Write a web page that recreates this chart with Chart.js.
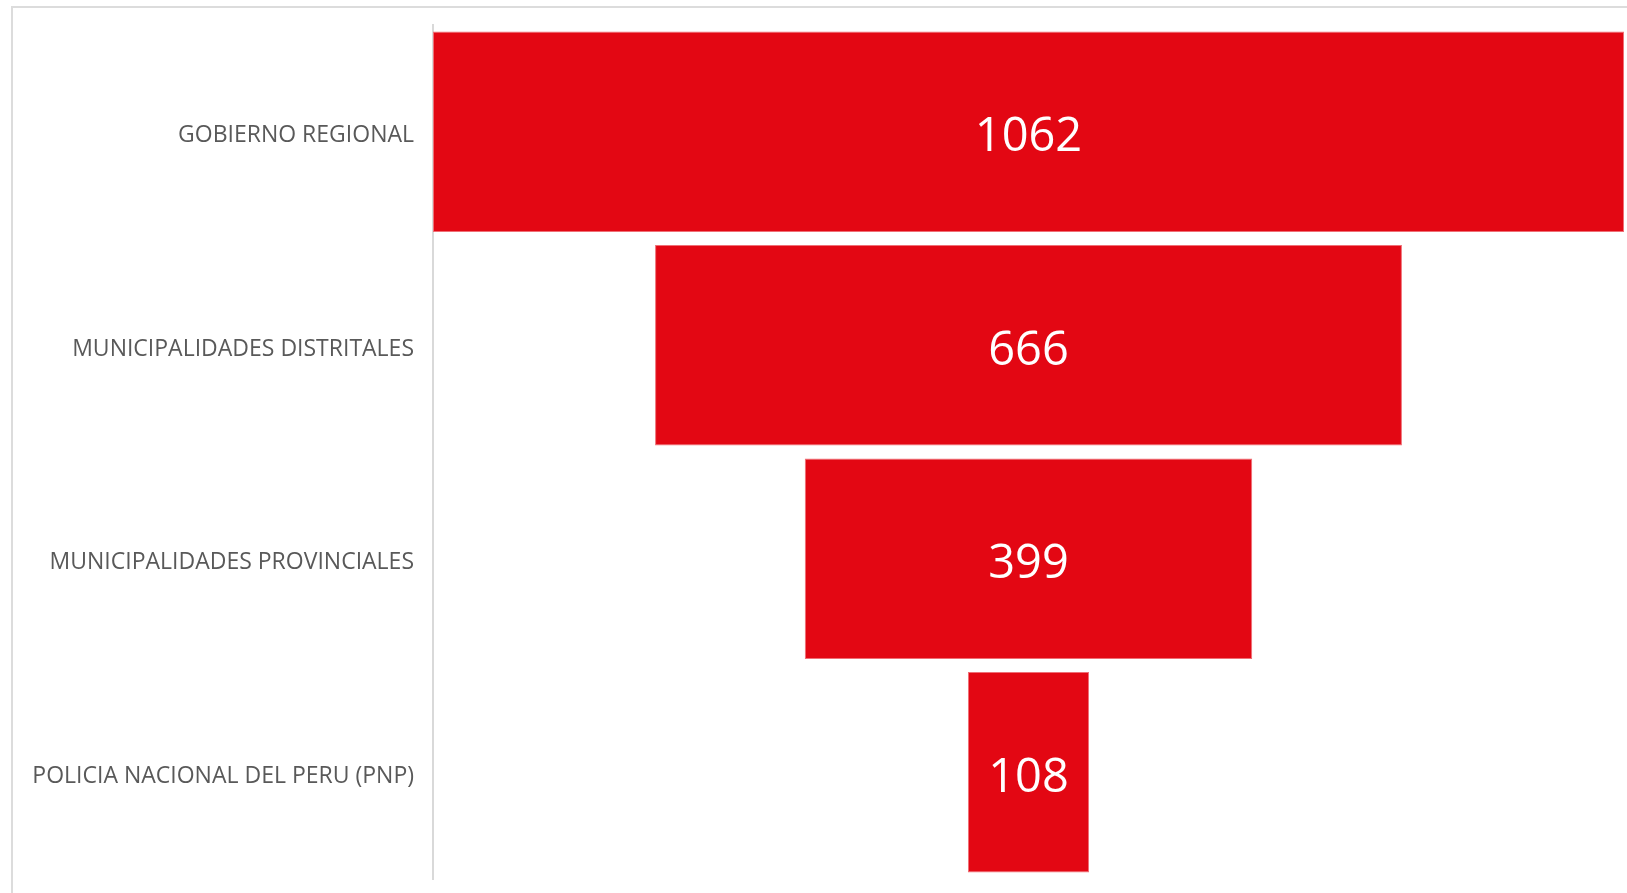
<!DOCTYPE html>
<html>
<head>
<meta charset="utf-8">
<script src="https://cdn.jsdelivr.net/npm/chart.js@4.4.0/dist/chart.umd.min.js"></script>
<style>
  html, body { margin: 0; padding: 0; background: #ffffff; overflow: hidden; }
  #wrap { position: relative; width: 1627px; height: 893px; overflow: hidden; }
  #frame { position: absolute; left: 11px; top: 6px; width: 3000px; height: 3000px;
           border: 2px solid #dcdcdc; box-sizing: border-box; }
  #c { position: absolute; left: 0; top: 0; }
</style>
</head>
<body>
<div id="wrap">
  <div id="frame"></div>
  <canvas id="c" width="1627" height="893"></canvas>
</div>
<script>
const categories = [
  "GOBIERNO REGIONAL",
  "MUNICIPALIDADES DISTRITALES",
  "MUNICIPALIDADES PROVINCIALES",
  "POLICIA NACIONAL DEL PERU (PNP)"
];
const values = [1062, 666, 399, 108];

const maxVal = Math.max(...values);
const funnelData = values.map(v => [-v / 2, v / 2]);

const valueLabels = {
  id: 'valueLabels',
  afterDatasetsDraw(chart) {
    const ctx = chart.ctx;
    const meta = chart.getDatasetMeta(0);
    ctx.save();
    ctx.fillStyle = '#ffffff';
    ctx.font = '47px "Open Sans"';
    ctx.textAlign = 'center';
    ctx.textBaseline = 'middle';
    meta.data.forEach((el, i) => {
      const cx = (el.x + el.base) / 2;
      ctx.fillText(String(values[i]), cx, el.y + 6);
    });
    ctx.restore();
  }
};

new Chart(document.getElementById('c'), {
  type: 'bar',
  data: {
    labels: categories,
    datasets: [{
      data: funnelData,
      backgroundColor: '#e30713',
      borderColor: '#ef6f76',
      borderWidth: 1,
      borderSkipped: false,
      barPercentage: 0.938,
      categoryPercentage: 1.0
    }]
  },
  options: {
    indexAxis: 'y',
    responsive: false,
    animation: false,
    layout: { padding: { left: 12, top: 25, bottom: 14, right: 3 } },
    plugins: { legend: { display: false }, tooltip: { enabled: false } },
    scales: {
      x: {
        display: false,
        min: -maxVal / 2,
        max: maxVal / 2
      },
      y: {
        grid: { display: false, drawTicks: false },
        border: { display: true, color: '#d9d9d9', width: 2 },
        ticks: {
          color: '#595959',
          padding: 19,
          labelOffset: 4,
          font: { family: '"Open Sans"', size: 23 }
        },
        afterFit(scale) {
          scale.width = 421;
          scale.paddingTop = 0;
          scale.paddingBottom = 0;
        }
      }
    }
  },
  plugins: [valueLabels]
});
</script>
</body>
</html>
